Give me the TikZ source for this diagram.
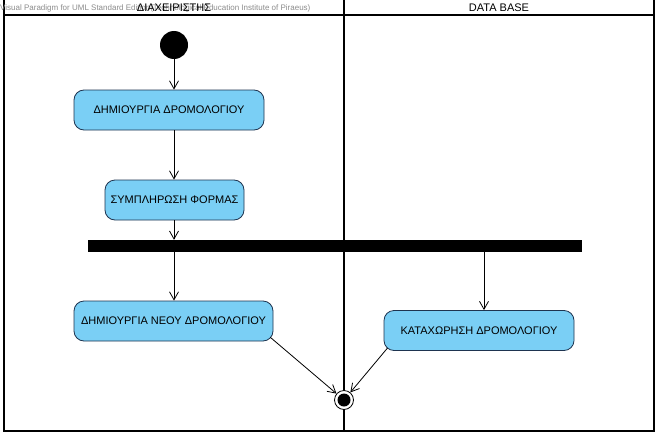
\documentclass[tikz,border=0pt]{standalone}
\usepackage{fontspec}
\setmainfont{Liberation Sans}
\usetikzlibrary{arrows.meta}

\definecolor{actfill}{RGB}{122,207,245}
\definecolor{actborder}{RGB}{30,52,80}

\begin{document}
\begin{tikzpicture}[x=1pt, y=-1pt, >={Straight Barb[length=8pt,width=9pt]},
  action/.style={draw=actborder, fill=actfill, line width=0.8pt, rounded corners=10pt,
    minimum height=40pt, font=\fontsize{11}{13}\selectfont},
  lane/.style={line width=1.6pt},
  flow/.style={->, line width=0.8pt}]
  \useasboundingbox (0,0) rectangle (660,436);
  \fill[white] (0,0) rectangle (660,436);

  % swimlanes
  \draw[lane] (4,0) -- (4,431) -- (654,431) -- (654,0);
  \draw[lane] (4,15) -- (654,15);
  \draw[lane] (344,0) -- (344,431);
  \node[anchor=west, inner sep=0, text=black!45, font=\fontsize{8}{9}\selectfont] (mark) at (0,8)
    {Visual Paradigm for UML Standard Edition(Technological Education Institute of Piraeus)};
  \node[font=\fontsize{11}{13}\selectfont] (admin) at (174,8) {ΔΙΑΧΕΙΡΙΣΤΗΣ};
  \node[font=\fontsize{11}{13}\selectfont] (db) at (499,8) {DATA BASE};

  \node[circle, fill=black, minimum size=28pt, inner sep=0] (start) at (174,45) {};
  \node[action, minimum width=190pt] (create) at (169,110) {ΔΗΜΙΟΥΡΓΙΑ ΔΡΟΜΟΛΟΓΙΟΥ};
  \node[action, minimum width=139pt] (form) at (174.5,200) {ΣΥΜΠΛΗΡΩΣΗ ΦΟΡΜΑΣ};
  \node[fill=black, minimum width=494pt, minimum height=12pt, inner sep=0] (fork) at (335,246) {};
  \node[action, minimum width=199pt] (newroute) at (173.5,321) {ΔΗΜΙΟΥΡΓΙΑ ΝΕΟΥ ΔΡΟΜΟΛΟΓΙΟΥ};
  \node[action, minimum width=190pt] (store) at (479,330.5) {ΚΑΤΑΧΩΡΗΣΗ ΔΡΟΜΟΛΟΓΙΟΥ};
  \node[circle, draw, fill=white, line width=0.8pt, minimum size=19pt, inner sep=0] (end) at (344,400) {};
  \node[circle, fill=black, minimum size=13pt, inner sep=0] (endin) at (end) {};
  \coordinate (dbx) at (484,246);

  \draw[flow] (start) -- (start |- create.north);
  \draw[flow] (start |- create.south) -- (start |- form.north);
  \draw[flow] (start |- form.south) -- (start |- fork.north);
  \draw[flow] (start |- fork.south) -- (start |- newroute.north);
  \draw[flow] (dbx |- fork.south) -- (dbx |- store.north);
  \draw[flow] ([xshift=-3pt,yshift=4pt]newroute.south east) -- (end);
  \draw[flow] ([xshift=4pt,yshift=3pt]store.south west) -- (end);
\end{tikzpicture}
\end{document}
